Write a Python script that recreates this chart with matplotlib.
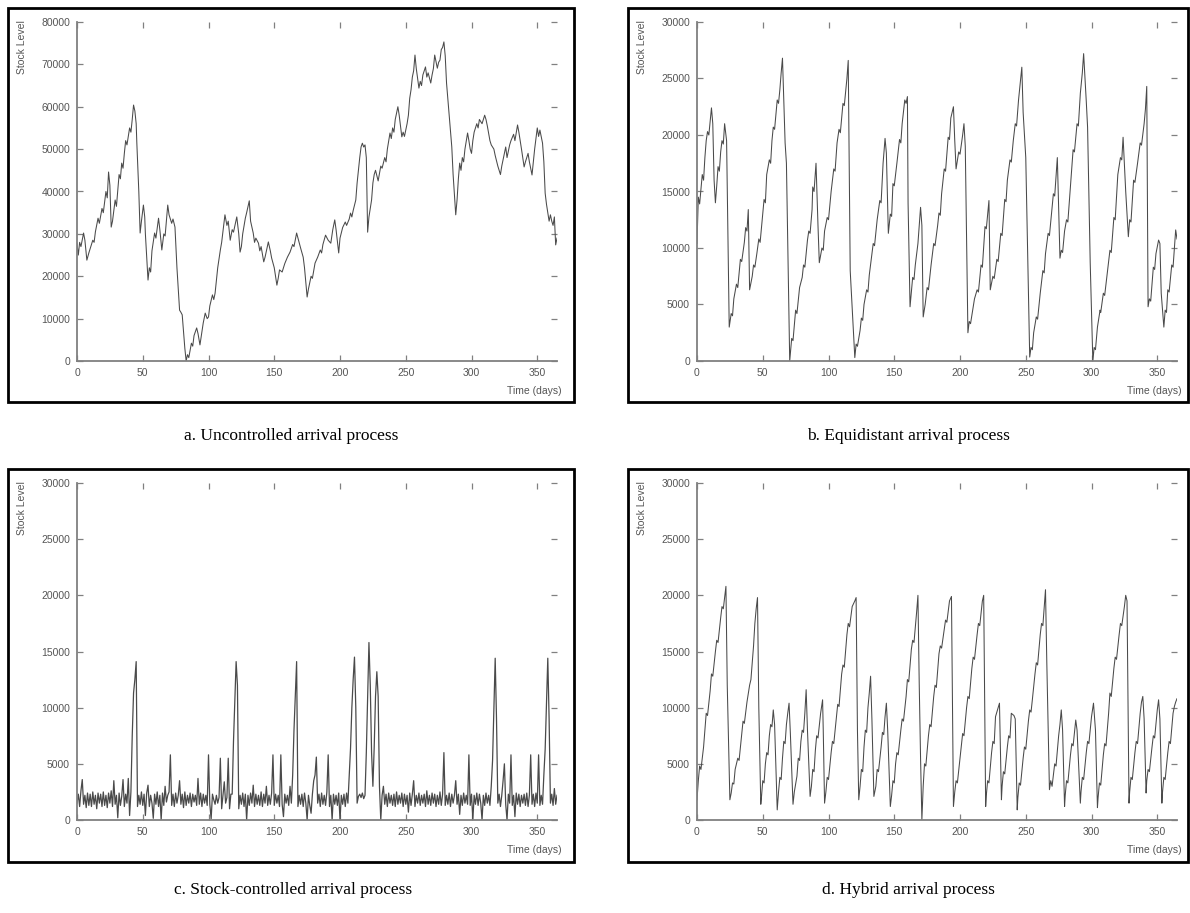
import matplotlib
matplotlib.use('Agg')
import matplotlib.pyplot as plt
from matplotlib.patches import Rectangle

# a. uncontrolled arrivals (day, stock level)
a_days = [0, 1, 2, 3, 5, 6, 7.5, 9, 10, 12, 13, 14, 16, 17, 19, 20, 22, 23, 24, 25, 26, 27, 29, 30, 32, 33, 34, 35,
          36, 37, 38, 39, 40, 41, 42, 43, 44, 45, 45.5, 47, 48, 49, 50.5, 51.5, 52, 54, 55, 56, 57, 59, 60, 62, 63,
          64.5, 66, 67, 69, 70, 72, 73, 74.5, 76, 78, 79, 80, 82, 83, 84, 85, 87, 88, 89, 91, 92, 93.5, 95, 96, 97.5,
          99, 100, 101, 103, 104, 105, 107, 109, 110, 112.5, 114, 115, 116.5, 118, 119, 121.5, 123, 124, 125, 126,
          128, 129, 131, 132, 134, 135, 136, 138, 139, 140, 142, 143, 145.5, 147, 148, 150, 152, 153, 154, 156, 158,
          160, 162, 164, 165, 167, 168, 170, 172, 173, 175, 176, 178, 179, 181, 183, 185, 186, 187, 189, 191, 193,
          194.5, 196, 197, 199, 200, 202, 204, 205, 207, 208, 209, 210, 212, 213, 214, 215, 216, 217, 218, 219, 220,
          221, 222, 224, 225, 226, 227, 229, 231, 232, 234, 235, 236, 238, 239, 240, 241, 242, 244, 245, 247, 248,
          249, 251, 252, 253, 254, 255, 256, 257, 258, 260, 261, 262, 263, 265, 266, 267, 269, 270, 271, 272, 274,
          275, 276, 277, 278, 279, 280, 281, 283, 285, 286, 288, 289, 290, 291, 292, 293, 294, 295, 297, 298, 299,
          300, 301, 302, 304, 305, 306, 308, 310, 311, 312, 314, 315, 317, 318, 320, 322, 323, 324, 326, 327, 329,
          330, 332, 333, 335, 336, 337, 338, 340, 341, 343, 344, 346, 347, 348, 350, 351, 352, 354, 355, 356, 357,
          358, 359, 360, 361, 362, 363, 364, 365]
a_level = [27800, 25000, 28000, 27000, 30200, 28500, 23800, 25500, 26500, 28500, 28000, 30500, 33700, 32500, 36000,
           35000, 40000, 38500, 44600, 41500, 31600, 33000, 38000, 36500, 44000, 43000, 46700, 45500, 49000, 52000,
           51000, 53000, 55000, 54000, 57000, 60400, 59000, 56000, 51400, 40000, 30200, 33000, 36800, 34000, 30000,
           19100, 22000, 21000, 26000, 30200, 29000, 33700, 31000, 26200, 30000, 29500, 36800, 34500, 32500, 33500,
           31600, 22000, 12000, 11500, 10900, 3000, 0, 1500, 800, 4200, 3500, 6000, 7800, 6500, 3800, 7000, 9000,
           11300, 10000, 10400, 13000, 15600, 14500, 16000, 22000, 26200, 28000, 34500, 32000, 33000, 28500, 31000,
           30400, 34000, 30000, 25700, 27000, 30000, 33700, 35000, 37800, 33000, 30200, 28000, 29000, 27800, 26000,
           27000, 23400, 24500, 28100, 26000, 24300, 22000, 17900, 19500, 21500, 21000, 23000, 24500, 25700, 27500,
           27000, 30200, 29000, 26700, 24500, 22000, 15100, 17000, 20000, 19500, 23100, 24500, 26200, 25500, 27500,
           29700, 28500, 27800, 31000, 33300, 31000, 25500, 29000, 31500, 32800, 32000, 33500, 34900, 34000, 35500,
           38000, 42000, 45000, 48000, 50500, 51400, 50500, 51000, 48000, 30400, 34000, 38000, 42000, 44000, 45000,
           42500, 46000, 45500, 48000, 47000, 50000, 53800, 52500, 55000, 54000, 57000, 60000, 58000, 52900, 54000,
           53000, 56000, 58000, 62000, 64000, 67000, 68500, 72200, 69000, 64400, 66000, 65000, 67500, 69400, 67000,
           68000, 65600, 67500, 69000, 72200, 69100, 70500, 71000, 73500, 74000, 75300, 72000, 65600, 58000, 50500,
           44000, 34500, 38000, 43000, 46700, 45000, 48000, 47000, 50000, 53800, 52000, 50000, 49000, 52000, 54000,
           56000, 55000, 57000, 56000, 58000, 57000, 55500, 52000, 51000, 50000, 48500, 46000, 44000, 46000, 47500,
           50500, 48000, 51000, 52000, 53500, 52000, 55700, 54000, 52000, 50000, 45800, 47000, 49000, 47000, 43900,
           47000, 50000, 55000, 53000, 54500, 51400, 47000, 39600, 37000, 35000, 33000, 34500, 33000, 32000, 34000,
           27400, 29000]

# b. equidistant arrivals
b_days = [0, 1, 2, 3, 4, 5, 6, 7, 8, 9, 10, 11, 12, 13, 14, 15, 16, 17, 18, 19, 20, 21, 22, 22.5, 24.5, 26, 27, 28,
          30, 31, 32, 33, 34, 36, 37, 38, 39, 40, 42, 43, 44, 45.5, 47, 48, 50, 51, 52, 53, 55, 56, 57, 58, 59, 61,
          62, 63, 64, 65, 66, 67, 68, 70.5, 72, 73, 75, 76, 78, 80, 81, 82, 84, 85, 86, 87.5, 88, 89, 90.5, 92, 93,
          95, 96, 97, 99, 100, 102, 104, 105, 106.5, 108, 109, 111, 112, 114, 115, 116.5, 120, 121, 122, 124, 125,
          126, 127, 129, 130, 131, 133, 134, 135, 137, 139, 140, 141.5, 143, 144, 145.5, 147, 148, 149, 150, 152,
          154, 155, 156, 158, 159, 160, 160.5, 162, 164, 165, 166, 168, 170, 171, 172, 173.5, 175, 176, 178, 180,
          181, 183, 184, 185, 186, 188, 189, 191, 192, 193, 195, 196, 197, 199, 200, 202, 203, 204, 206, 207, 208,
          210, 211, 213, 214, 216, 217, 219, 220, 222, 223, 225, 226, 228, 229, 231, 232, 234, 235, 236, 238, 239,
          240.5, 242, 243, 244.5, 246, 247, 248, 250, 253, 254, 255, 256, 258, 259, 261, 263, 264, 265, 267, 268,
          270, 271, 272, 274, 276, 277, 278, 279.5, 281, 282, 284, 286, 287, 289, 290, 291.5, 293, 294, 296, 297,
          299, 301, 302, 303, 304.5, 306.5, 307, 309, 310, 312, 314, 315, 317, 318, 320, 322, 323, 324, 326, 328,
          329, 330, 332, 333, 335, 337, 338, 340, 341, 342, 343, 344, 345, 347, 348, 349, 351, 352, 353, 355, 356,
          357, 358, 359, 361, 362, 364, 365]
b_level = [10400, 14500, 13900, 15200, 16500, 16000, 18000, 19500, 20300, 20000, 21200, 22400, 21000, 16000, 14000,
           15500, 17200, 16800, 18500, 19500, 19200, 21000, 20000, 19500, 3000, 4200, 4000, 5500, 6800, 6500, 7800,
           9000, 8800, 10500, 11800, 11500, 13400, 6300, 7500, 8500, 8300, 9500, 10800, 10500, 13000, 14300, 14000,
           16500, 17800, 17500, 19500, 20700, 20500, 23100, 22800, 24000, 25500, 26800, 23000, 19300, 17500, 0,
           2000, 1800, 4500, 4200, 6500, 7400, 8500, 8300, 10700, 11500, 11300, 13400, 15400, 15000, 17500, 12000,
           8700, 10000, 9800, 11500, 12700, 12500, 15000, 17000, 16800, 19300, 20500, 20200, 22800, 22600, 25000,
           26600, 8000, 300, 1500, 1300, 2700, 3800, 3600, 5000, 6300, 6100, 7600, 9500, 10400, 10200, 12500, 14200,
           14000, 17500, 19700, 18400, 11300, 13000, 12800, 15700, 15500, 17500, 19600, 19300, 21000, 23100, 22800,
           23400, 14000, 4800, 7400, 7200, 8500, 10400, 13600, 12000, 3900, 5000, 6500, 6300, 8500, 10400, 10200,
           12000, 13100, 12900, 14800, 17000, 16800, 19800, 19600, 21500, 22500, 19500, 17000, 18500, 18300, 20000,
           21000, 19000, 2500, 3500, 3300, 4800, 5500, 6300, 6100, 8500, 8300, 11900, 11700, 14200, 6300, 7500,
           7300, 9000, 8800, 11300, 11100, 14300, 14100, 16000, 17800, 17600, 19500, 21000, 20800, 23100, 24800,
           26000, 22000, 18000, 350, 1200, 1000, 2500, 3900, 3700, 6000, 8000, 7800, 9500, 11300, 11100, 13500,
           14800, 14600, 18000, 9100, 9800, 9600, 11500, 12500, 12300, 15500, 18700, 18500, 21000, 20800, 23700,
           25500, 27200, 23000, 20700, 8700, 0, 1200, 1000, 3000, 4500, 4300, 6000, 5800, 7800, 9800, 9600, 12700,
           12500, 16500, 18000, 17800, 19800, 15000, 11000, 12500, 12300, 16000, 15800, 17500, 19300, 19100, 21000,
           22300, 24300, 4800, 5500, 5300, 8300, 8100, 9500, 10700, 10400, 6000, 3000, 4500, 4300, 6300, 6100, 8500,
           8300, 11600, 10800]

# c. stock-controlled arrivals, one value per day
c_level = [1500, 2300, 1200, 2600, 3600, 1400, 2200, 1100, 2400, 1300,
           2300, 1200, 2500, 1400, 2200, 1000, 2400, 1500, 2300, 1200,
           2500, 1300, 2200, 1100, 2400, 1500, 2600, 1200, 3500, 1400,
           2200, 200, 2400, 1300, 2100, 3600, 1200, 2300, 1500, 3700,
           400, 2500, 7500, 11300, 12500, 14100, 1200, 2200, 1400, 2500,
           1300, 2300, 400, 2400, 3100, 1200, 2200, 1500, 150, 2300,
           1400, 2500, 1200, 2200, 0, 2400, 1300, 3000, 1600, 2200,
           2500, 5800, 1300, 2300, 1200, 2400, 1500, 2200, 3500, 1400,
           2300, 1100, 2500, 1300, 2200, 1500, 2400, 1200, 2300, 1600,
           2200, 1300, 3700, 1400, 2400, 1200, 2300, 1500, 2200, 1300,
           5800, 1400, 100, 2300, 1800, 1400, 2200, 1500, 2000, 5500,
           1000, 2200, 3400, 1500, 2000, 5500, 1000, 2300, 2300, 7000,
           10500, 14100, 12000, 1000, 2200, 1400, 2400, 1200, 2300, 0,
           2200, 1300, 2400, 1500, 3100, 1200, 2300, 1400, 2200, 1300,
           2500, 1200, 2300, 1500, 3000, 1300, 2200, 1400, 2400, 5800,
           1300, 2300, 1500, 2200, 1200, 5800, 1400, 300, 2300, 1500,
           2200, 1300, 3000, 1500, 4000, 8000, 11000, 14100, 1200, 2200,
           1400, 2300, 1200, 2400, 1500, 0, 2200, 1300, 600, 2300,
           3500, 4000, 5600, 1500, 2300, 1200, 2400, 1400, 2200, 1300,
           2500, 5800, 1200, 2200, 0, 2300, 1400, 2200, 1300, 2400,
           0, 2200, 1400, 2300, 1200, 2400, 1500, 4000, 6400, 10000,
           12500, 14500, 10000, 1500, 2100, 2300, 2000, 2400, 1900, 2200,
           6000, 11000, 15800, 12000, 6000, 3000, 6500, 11000, 13200, 11000,
           3000, 0, 2200, 3000, 1400, 2300, 1200, 2400, 1500, 2200,
           1300, 2300, 1200, 2500, 1400, 2200, 1500, 2400, 1200, 2300,
           1400, 2200, 700, 2400, 1300, 2300, 3500, 1200, 2200, 1500,
           2400, 1300, 2200, 1500, 2300, 1200, 2600, 1400, 2200, 1300,
           2400, 1500, 2300, 1200, 2200, 1400, 2500, 1300, 2300, 6000,
           1300, 2200, 1400, 2400, 1200, 2300, 1500, 2200, 3500, 1400,
           2300, 500, 2200, 1300, 2400, 1500, 2200, 1400, 5800, 1300,
           2300, 0, 2200, 1400, 2400, 1300, 2300, 1500, 0, 2200,
           1300, 2400, 1500, 2200, 1300, 3000, 5300, 10000, 14400, 9000,
           1500, 2300, 1200, 2200, 3500, 5000, 1400, 0, 2300, 1500,
           5800, 1300, 2200, 300, 2400, 1400, 2300, 1200, 2200, 1500,
           2300, 1300, 2400, 1200, 2200, 5800, 1400, 2300, 1200, 2400,
           1500, 5800, 1300, 2200, 1400, 4000, 6300, 10500, 14400, 9000,
           1500, 2300, 1300, 2800, 1400, 2200]
c_days = list(range(len(c_level)))

# d. hybrid arrivals
d_days = [0, 1, 2, 3, 5, 6, 7, 8, 10, 11, 12, 14, 15, 16, 18, 19, 20, 22, 23, 25, 26, 27, 28, 29, 31, 32, 33, 35, 36,
          38, 40, 41, 42, 43, 44, 45, 46, 47, 48.5, 49, 50, 51, 52, 53, 54, 55, 56, 57, 58, 59, 61, 62, 63, 64, 65,
          66, 67, 68, 69, 70, 71, 73, 74, 76, 77, 78, 79, 80, 81, 82, 83, 84, 86, 87, 88, 89, 90, 91, 92, 94, 95.5,
          96, 97, 98, 99, 100, 102, 103, 104, 106, 107, 108, 110, 111, 112, 114, 115, 116, 118, 120, 121, 122, 123,
          124, 125, 126, 127, 128, 129, 130, 131, 132, 133, 134.5, 136, 137, 138, 140, 141, 142, 143, 144, 145, 147,
          148, 149, 150, 151, 152, 153, 155, 156, 157, 159, 160, 161, 163, 164, 165, 167, 168, 169, 170, 171, 172,
          173, 174, 176, 177, 178, 180, 181, 182, 184, 185, 186, 188, 189, 190, 192, 193.5, 195, 196, 197, 198, 200,
          202, 203, 205, 206, 207, 209, 210, 211, 213, 214, 215, 217, 218, 219.5, 220, 221, 222, 224, 225, 226, 227,
          229, 230, 231.5, 232, 233, 234, 236, 237, 238, 239, 241, 242, 243.5, 244, 245, 246, 248, 249, 250, 252,
          253, 254, 255, 257, 258, 259, 261, 262, 263, 265, 266, 268, 269, 270, 271, 272, 273, 275, 276, 277, 278,
          279.5, 280, 281, 282, 284, 285, 286, 288, 289, 291.5, 292, 293, 294, 296, 297, 298, 300, 301.5, 303, 304.5,
          305, 306, 307, 309, 310, 311, 313, 314, 315, 317, 318, 319, 321, 322, 323, 325, 326, 327, 328.5, 329, 330,
          331, 333, 334, 335, 337, 338, 339, 340, 341.5, 342, 343, 344, 346, 347, 348, 350, 351, 352, 353.5, 354,
          355, 356, 358, 359, 360, 362, 363, 364, 365]
d_level = [1800, 3500, 4800, 4500, 6500, 8000, 9500, 9300, 11500, 13000, 12800, 15000, 16000, 15800, 18000, 19000,
           18800, 20800, 12000, 1800, 2400, 3300, 3200, 4500, 5500, 5300, 6500, 8800, 8600, 10500, 12000, 12500,
           14000, 15500, 17500, 18800, 19800, 10000, 1400, 2000, 3500, 3300, 5000, 6000, 5800, 7500, 8500, 8300,
           9800, 8500, 900, 2500, 3800, 3600, 5500, 7000, 6800, 8500, 9500, 10400, 7700, 1400, 2500, 3900, 5500,
           5300, 7000, 8000, 7800, 9500, 11600, 8000, 2100, 3000, 4500, 4300, 6200, 7500, 7300, 9500, 10700, 8000,
           1500, 2500, 3800, 3600, 6000, 7000, 6800, 9200, 10300, 10100, 13000, 13800, 13600, 16500, 17500, 17200,
           19000, 19500, 19800, 8000, 1800, 3000, 4500, 4300, 6500, 8000, 7800, 10000, 11300, 12800, 9000, 2100,
           3000, 4500, 4300, 6500, 7800, 7600, 9200, 10400, 8000, 1200, 2200, 3500, 3300, 5000, 6000, 5800, 8000,
           9000, 8800, 11000, 12500, 12300, 15200, 16000, 15800, 18500, 20000, 12000, 5500, 0, 3000, 5000, 4800,
           7500, 8500, 8300, 11000, 12000, 11800, 14800, 15500, 15300, 17000, 17800, 17600, 19500, 19900, 1200, 2500,
           3500, 3300, 5500, 7700, 7500, 10000, 11000, 10800, 13500, 14500, 14300, 16500, 17500, 17300, 19500, 20000,
           1200, 2200, 3500, 3300, 6000, 7000, 6800, 9200, 10000, 10400, 1800, 3000, 4300, 4100, 6500, 7500, 7300,
           9500, 9300, 9000, 900, 2000, 3300, 3100, 5500, 6500, 6300, 8800, 9800, 9600, 10700, 13000, 14000, 13800,
           16500, 17500, 17300, 20500, 14000, 2700, 3500, 3000, 4000, 5000, 4800, 7500, 8500, 9800, 8000, 1200, 2200,
           3500, 3300, 5800, 6800, 6600, 8900, 8000, 1500, 2500, 3800, 3600, 6000, 7000, 6800, 9200, 10400, 8000,
           1100, 2000, 3300, 3100, 5800, 6800, 6600, 9500, 11300, 11000, 13500, 14500, 14300, 16500, 17500, 17300,
           19000, 20000, 19500, 1500, 2500, 3800, 3600, 6000, 7000, 6800, 9500, 10500, 11000, 9000, 2400, 3500, 4500,
           4300, 6500, 7500, 7300, 9800, 10700, 9000, 1500, 2500, 3800, 3600, 6000, 7000, 6800, 9500, 10100, 10500,
           10800]

panels = [
    ('a. Uncontrolled arrival process', a_days, a_level, 80000, 10000),
    ('b. Equidistant arrival process', b_days, b_level, 30000, 5000),
    ('c. Stock-controlled arrival process', c_days, c_level, 30000, 5000),
    ('d. Hybrid arrival process', d_days, d_level, 30000, 5000),
]

W, H = 1190, 913
fig = plt.figure(figsize=(W / 100, H / 100), dpi=100)

# pixel geometry of each panel: axes left, axes top, axes bottom, frame box
ax_left = [77, 697, 77, 697]
ax_top = [22, 22, 483, 483]
ax_bot = [361, 361, 820, 820]
boxes = [(8, 8, 574, 402), (628, 8, 1188, 402), (8, 469, 574, 862), (628, 469, 1188, 862)]
cap_x = [291, 908, 293, 908]
cap_y = [436, 436, 890, 890]
line_w = [0.75, 0.75, 0.9, 0.75]
gray = '#808080'

for i, (title, days, level, ymax, ystep) in enumerate(panels):
    x0, y0, x1, y1 = boxes[i]
    fig.patches.append(Rectangle((x0 / W, 1 - y1 / H), (x1 - x0) / W, (y1 - y0) / H,
                                 transform=fig.transFigure, fill=False, edgecolor='black', lw=2))

    ax = fig.add_axes([ax_left[i] / W, 1 - ax_bot[i] / H, 480 / W, (ax_bot[i] - ax_top[i]) / H])
    ax.plot(days, level, color='#4a4a4a', lw=line_w[i])
    ax.set_xlim(0, 365)
    ax.set_ylim(0, ymax)
    ax.set_xticks(range(0, 351, 50))
    ax.set_yticks(range(0, ymax + 1, ystep))
    for s in ['top', 'right']:
        ax.spines[s].set_visible(False)
    for s in ['left', 'bottom']:
        ax.spines[s].set_color(gray)
        ax.spines[s].set_linewidth(1.3)
    ax.tick_params(direction='in', length=4, width=0.9, color=gray, top=True, right=True,
                   labelsize=7.5, labelcolor='#555555', pad=5)
    for lab in ax.get_xticklabels() + ax.get_yticklabels():
        lab.set_family('Liberation Sans')

    lx = 22 if i % 2 == 0 else 642
    fig.text(lx / W, 1 - (ax_top[i] - 2) / H, 'Stock Level', rotation=90, ha='center', va='top',
             fontsize=7.5, color='#555555', family='Liberation Sans')
    rx = 562 if i % 2 == 0 else 1182
    fig.text(rx / W, 1 - (ax_bot[i] + 30) / H, 'Time (days)', ha='right', va='center',
             fontsize=7.5, color='#555555', family='Liberation Sans')
    fig.text(cap_x[i] / W, 1 - cap_y[i] / H, title, ha='center', va='center',
             fontsize=12.5, family='Liberation Serif')

fig.savefig('out.png', dpi=100)
plt.close(fig)
